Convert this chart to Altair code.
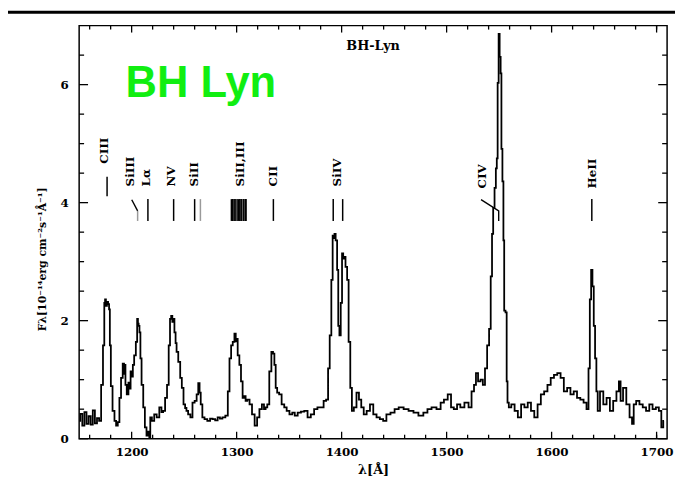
import altair as alt
import pandas as pd

# ---- spectrum of BH Lyn: (wavelength [A], flux [1e-14 erg/cm2/s/A]) ----
seg_ciii = [(1150, 0.30), (1152, 0.42), (1154, 0.22), (1156, 0.45), (1158, 0.25), (1160, 0.38),
            (1162, 0.24), (1164, 0.48), (1166, 0.26), (1168, 0.35), (1170, 0.30), (1171.9, 0.91),
            (1173.5, 1.58), (1174.4, 2.30), (1175.0, 2.36), (1176.0, 2.25), (1176.9, 2.32),
            (1178.2, 2.28), (1178.8, 2.19), (1179.7, 1.58), (1180.7, 0.89), (1182.9, 0.47),
            (1184.4, 0.30), (1186.0, 0.22), (1187.6, 0.28)]
seg_siiii = [(1189.1, 0.69), (1190.7, 1.03), (1192.3, 1.27), (1193.2, 1.10), (1193.8, 1.25),
             (1194.4, 0.91), (1196.3, 0.75), (1197.6, 0.95), (1198.5, 0.85), (1199.5, 1.14),
             (1200.7, 1.05), (1201.6, 1.25), (1203.2, 1.41), (1204.8, 1.64), (1205.7, 2.03),
             (1206.3, 1.95), (1207.0, 1.91), (1207.9, 1.80), (1208.8, 1.36), (1210.1, 0.91),
             (1212.0, 0.53), (1213.2, 0.19), (1215.1, 0.05), (1216.4, 0.12), (1217.3, 0.02),
             (1218.2, 0.36), (1220.4, 0.30), (1222.6, 0.41), (1225.1, 0.36), (1227.6, 0.53),
             (1229.2, 0.45), (1230.8, 0.47)]
seg_nv = [(1232.9, 0.69), (1234.5, 0.91), (1236.1, 1.58), (1237.0, 2.03), (1238.3, 2.08),
          (1239.2, 1.98), (1240.1, 2.03), (1241.4, 1.80), (1242.3, 1.62), (1243.3, 1.47),
          (1245.5, 1.30), (1247.0, 1.03), (1248.6, 0.86), (1250.2, 0.58), (1251.7, 0.52),
          (1252.7, 0.47), (1254.9, 0.41), (1257.0, 0.36), (1258.9, 0.61), (1261.1, 0.64),
          (1262.7, 0.75), (1264.2, 0.94), (1265.2, 0.78), (1266.4, 0.58), (1268.3, 0.36),
          (1270.5, 0.33), (1273.6, 0.30), (1275.8, 0.34), (1278.3, 0.33), (1280.8, 0.31),
          (1283.0, 0.36), (1285.2, 0.34), (1287.7, 0.36), (1290.8, 0.39)]
seg_siii = [(1292.4, 0.80), (1294.0, 1.36), (1295.5, 1.58), (1297.1, 1.64), (1298.7, 1.78),
            (1299.6, 1.65), (1300.2, 1.69), (1301.8, 1.41), (1303.4, 1.25), (1304.9, 0.97),
            (1306.5, 0.69), (1308.1, 0.72), (1309.0, 0.64), (1311.2, 0.66), (1313.4, 0.58),
            (1315.9, 0.41), (1318.4, 0.22), (1320.6, 0.36), (1322.8, 0.50), (1325.3, 0.58),
            (1326.8, 0.50), (1328.4, 0.53), (1330.0, 0.58)]
seg_cii = [(1332.2, 1.14), (1334.0, 1.47), (1335.3, 1.44), (1336.6, 1.25), (1337.8, 0.86),
           (1339.4, 0.78), (1341.6, 0.75), (1344.1, 0.58), (1346.6, 0.53), (1348.7, 0.47),
           (1351.9, 0.41), (1354.1, 0.44), (1356.6, 0.39), (1359.7, 0.44), (1362.8, 0.46),
           (1366.0, 0.47), (1369.1, 0.36), (1372.2, 0.41), (1375.4, 0.50), (1378.5, 0.53),
           (1381.6, 0.53), (1384.1, 0.64), (1386.3, 0.66)]
seg_siiv = [(1387.9, 1.19), (1389.4, 1.75), (1391.0, 2.69), (1391.9, 3.44), (1392.9, 3.40),
            (1393.5, 3.47), (1395.1, 3.36), (1396.3, 2.86), (1397.3, 1.91), (1398.5, 1.75),
            (1399.8, 2.30), (1401.0, 3.14), (1402.0, 3.05), (1402.9, 3.08), (1404.5, 2.91),
            (1406.0, 2.69), (1407.3, 1.64), (1409.2, 0.86), (1410.4, 0.47), (1412.9, 0.53),
            (1415.4, 0.78), (1417.6, 0.66), (1419.8, 0.53), (1422.3, 0.41), (1425.4, 0.47),
            (1428.6, 0.58), (1431.7, 0.41), (1434.8, 0.36), (1438.0, 0.33), (1441.1, 0.30),
            (1444.2, 0.41), (1448.9, 0.44), (1452.0, 0.50), (1456.7, 0.53), (1461.4, 0.50),
            (1466.1, 0.47), (1470.8, 0.44), (1475.5, 0.39), (1480.2, 0.44), (1483.3, 0.50),
            (1488.0, 0.53), (1492.7, 0.50), (1495.9, 0.61), (1499.0, 0.66), (1503.1, 0.75),
            (1505.3, 0.53), (1508.4, 0.50), (1511.5, 0.58), (1514.6, 0.53), (1519.3, 0.61),
            (1522.5, 0.53)]
seg_civ = [(1525.0, 0.80), (1527.2, 0.91), (1528.7, 1.11), (1531.2, 0.97), (1533.4, 1.00),
           (1535.6, 0.91), (1537.5, 1.19), (1539.7, 1.58), (1541.2, 1.86), (1542.8, 2.75),
           (1543.7, 3.47), (1545.0, 3.91), (1546.3, 4.25), (1547.5, 4.58), (1548.1, 4.75),
           (1549.1, 6.03), (1550.0, 6.86), (1551.0, 6.47), (1551.9, 6.19), (1552.5, 4.91),
           (1553.8, 4.36), (1554.4, 3.36), (1555.3, 2.17), (1556.9, 2.14), (1557.5, 0.97),
           (1558.5, 0.61), (1560.0, 0.53), (1563.2, 0.58), (1566.3, 0.47), (1569.4, 0.36),
           (1572.5, 0.58), (1575.7, 0.53), (1578.8, 0.61), (1581.9, 0.47), (1585.1, 0.36),
           (1588.2, 0.58)]
seg_heii = [(1591.3, 0.75), (1594.5, 0.80), (1597.6, 0.91), (1600.7, 1.03), (1603.8, 1.08),
            (1607.0, 1.11), (1610.1, 1.03), (1613.2, 0.80), (1616.4, 0.86), (1619.5, 0.75),
            (1622.6, 0.80), (1625.8, 0.69), (1628.9, 0.66), (1632.0, 0.61), (1634.5, 0.50),
            (1635.8, 1.19), (1637.0, 2.36), (1638.3, 2.86), (1639.5, 2.58), (1640.8, 1.91),
            (1642.0, 1.36), (1643.3, 0.80), (1644.5, 0.47), (1647.7, 0.80), (1650.8, 0.58),
            (1653.9, 0.69), (1657.1, 0.47), (1660.2, 0.64), (1663.3, 0.80), (1664.9, 0.97),
            (1666.5, 0.64), (1669.6, 0.86), (1672.7, 0.58), (1675.8, 0.36), (1677.4, 0.25),
            (1679.0, 0.58), (1682.1, 0.64), (1685.2, 0.58), (1688.4, 0.53), (1691.5, 0.47),
            (1694.6, 0.58), (1697.7, 0.50), (1700.9, 0.53), (1703.4, 0.47), (1705.6, 0.19),
            (1707.1, 0.30)]

# ---- line identifications ----
id_names = ["CIII", "SiIII", "Lα", "NV", "SiII", "SiII,III", "CII", "SiIV", "CIV", "HeII"]
id_label_wl = [1173.5, 1198.5, 1214.1, 1237.6, 1259.6, 1303.3, 1334.7, 1395.7, 1533.4, 1638.3]
id_label_flux = [4.66, 4.275, 4.275, 4.275, 4.275, 4.275, 4.275, 4.275, 4.24, 4.24]
id_tick_wl = [1176.6, 1215.5, 1240.0, 1260.0, 1295.0, 1296.3, 1297.6, 1298.6, 1300.4, 1301.7,
              1303.0, 1304.2, 1305.0, 1306.8, 1308.2, 1309.0, 1335.0, 1392.0, 1401.0, 1638.3]
id_tick_lo = [4.11] + [3.69] * 19
id_tick_hi = [4.44] + [4.06] * 19
id_gray_wl = [1265.5, 1205.7]
id_gray_lo = [3.69, 3.69]
id_gray_hi = [4.06, 3.86]
ptr_group = ["SiIII", "SiIII", "CIV", "CIV", "CIV"]
ptr_order = [0, 1, 0, 1, 2]
ptr_wl = [1200.1, 1205.7, 1532.8, 1549.6, 1549.6]
ptr_flux = [4.05, 3.86, 4.05, 3.86, 3.69]

# ---- axis ticks ----
x_major = [1200, 1300, 1400, 1500, 1600, 1700]
x_minor = [1160, 1180, 1220, 1240, 1260, 1280, 1320, 1340, 1360, 1380, 1420, 1440, 1460, 1480,
           1520, 1540, 1560, 1580, 1620, 1640, 1660, 1680, 1700]
y_major = [0, 2, 4, 6]
y_minor = [0.5, 1, 1.5, 2.5, 3, 3.5, 4.5, 5, 5.5, 6.5]

W, H = 595, 418
FONT = "DejaVu Serif"

pairs = seg_ciii + seg_siiii + seg_nv + seg_siii + seg_cii + seg_siiv + seg_civ + seg_heii
spec = pd.DataFrame({"wl": [p[0] for p in pairs], "flux": [p[1] for p in pairs]})

xs = alt.Scale(domain=[1150, 1710], nice=False, zero=False)
ys = alt.Scale(domain=[0, 7], nice=False, zero=False)

xaxis = alt.Axis(values=x_major, format="d", ticks=False, tickSize=0, domain=False, grid=False,
                 labelFont=FONT, labelFontSize=12, labelFontWeight="bold", labelColor="black",
                 labelPadding=8, labelFlush=False, title="λ[Å]", titleFont=FONT,
                 titleFontSize=13, titleFontWeight="bold", titleColor="black", titleY=31,
                 titleBaseline="middle")
yaxis = alt.Axis(values=y_major, format="d", ticks=False, tickSize=0, domain=False, grid=False,
                 labelFont=FONT, labelFontSize=12, labelFontWeight="bold", labelColor="black",
                 labelPadding=11, title="Fλ[10⁻¹⁴erg cm⁻²s⁻¹Å⁻¹]", titleFont=FONT,
                 titleFontSize=11, titleFontWeight="bold", titleColor="black", titleX=-37,
                 titleY=236, titleAngle=270, titleAlign="center", titleBaseline="middle")

X = lambda f: alt.X(f, scale=xs, axis=xaxis)
Y = lambda f: alt.Y(f, scale=ys, axis=yaxis)

line = alt.Chart(spec).mark_line(color="black", strokeWidth=1.8, interpolate="step",
                                 clip=True).encode(x=X("wl:Q"), y=Y("flux:Q"))

layers = [line]


def xticks(vals, length):
    df = pd.DataFrame({"t": vals})
    bottom = alt.Chart(df).mark_rule(color="black", strokeWidth=1.3).encode(
        x=X("t:Q"), y=alt.value(H), y2=alt.value(H - length))
    top = alt.Chart(df).mark_rule(color="black", strokeWidth=1.3).encode(
        x=X("t:Q"), y=alt.value(0), y2=alt.value(length))
    return [bottom, top]


def yticks(vals, length):
    df = pd.DataFrame({"t": vals})
    left = alt.Chart(df).mark_rule(color="black", strokeWidth=1.3).encode(
        y=Y("t:Q"), x=alt.value(0), x2=alt.value(length))
    right = alt.Chart(df).mark_rule(color="black", strokeWidth=1.3).encode(
        y=Y("t:Q"), x=alt.value(W), x2=alt.value(W - length))
    return [left, right]


layers += xticks(x_major, 7) + xticks(x_minor, 4) + yticks(y_major, 9) + yticks(y_minor, 5)

ids = pd.DataFrame({"name": id_names, "wl": id_label_wl, "f": id_label_flux})
layers.append(alt.Chart(ids).mark_text(angle=270, align="left", baseline="middle", font=FONT,
                                       fontSize=12, fontWeight="bold", color="black").encode(
    x=X("wl:Q"), y=Y("f:Q"), text="name:N"))

ticks_df = pd.DataFrame({"wl": id_tick_wl, "lo": id_tick_lo, "hi": id_tick_hi})
layers.append(alt.Chart(ticks_df).mark_rule(color="black", strokeWidth=1.5).encode(
    x=X("wl:Q"), y=Y("lo:Q"), y2="hi:Q"))
gray_df = pd.DataFrame({"wl": id_gray_wl, "lo": id_gray_lo, "hi": id_gray_hi})
layers.append(alt.Chart(gray_df).mark_rule(color="#9a9a9a", strokeWidth=1.5).encode(
    x=X("wl:Q"), y=Y("lo:Q"), y2="hi:Q"))
ptr_df = pd.DataFrame({"g": ptr_group, "o": ptr_order, "wl": ptr_wl, "f": ptr_flux})
layers.append(alt.Chart(ptr_df).mark_line(color="black", strokeWidth=1.4).encode(
    x=X("wl:Q"), y=Y("f:Q"), detail="g:N", order="o:Q"))

one = pd.DataFrame({"a": [0]})
layers.append(alt.Chart(one).mark_text(text="BH-Lyn", font=FONT, fontSize=13, fontWeight="bold",
                                       color="black", align="center",
                                       baseline="middle").encode(
    x=alt.value(W / 2), y=alt.value(21)))
layers.append(alt.Chart(one).mark_text(text="BH Lyn", font="Liberation Sans", fontSize=44,
                                       fontWeight="bold", color="#11ee11", align="left",
                                       baseline="alphabetic").encode(
    x=alt.value(47), y=alt.value(72)))
layers.append(alt.Chart(one).mark_rect(color="black").encode(
    x=alt.value(-72), x2=alt.value(W + 8), y=alt.value(-15), y2=alt.value(-12)))

chart = alt.layer(*layers).properties(
    width=W, height=H,
    padding={"left": 72, "top": 15, "right": 8, "bottom": 41},
    autosize=alt.AutoSizeParams(type="none"),
    background="white",
).configure_view(stroke="black", strokeWidth=1.5)

chart.save("out.html", embed_options={"renderer": "svg", "actions": False})
